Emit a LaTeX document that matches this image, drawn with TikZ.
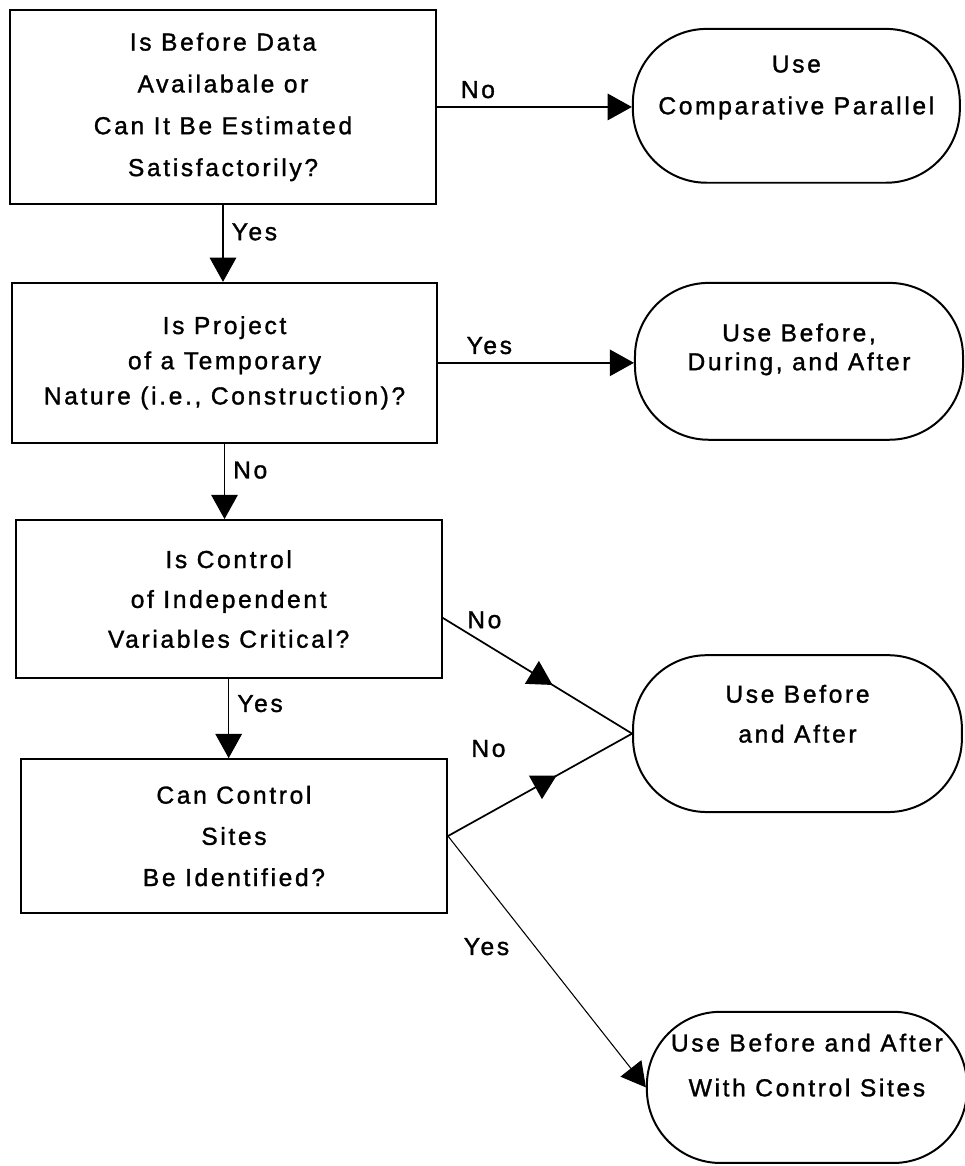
\documentclass[tikz,border=0pt]{standalone}
\usepackage{fontspec}
\newfontfamily\chartfont{Liberation Sans}[LetterSpace=10.8, FakeBold=1.3]
\usetikzlibrary{arrows.meta,positioning,decorations.markings}

\begin{document}
\begin{tikzpicture}[
  x=1cm, y=1cm,
  font=\chartfont\fontsize{18.5}{31.5}\selectfont,
  question/.style={draw, line width=1.5pt, minimum width=11.27cm, align=center, inner sep=0pt},
  outcome/.style={draw, line width=1.5pt, rounded corners=1.95cm, align=center, inner sep=0pt},
  flow/.style={-{Triangle[length=6.4mm, width=7mm]}, line width=1.1pt},
  midflow/.style={line width=1.3pt, postaction={decorate},
    decoration={markings, mark=at position #1 with {\arrow{Triangle[length=6.4mm, width=7mm]}}}},
  lbl/.style={inner sep=2pt}
]
\useasboundingbox (0,0) rectangle (25.53,-30.85);

% questions
\node[question, minimum height=5.13cm] (avail) at (5.90,-2.83) {Is Before Data\\Availabale or\\Can It Be Estimated\\Satisfactorily?};
\node[question, minimum height=4.23cm, font=\chartfont\fontsize{18.5}{26.5}\selectfont] (temp) at (5.94,-9.60) {Is Project\\of a Temporary\\Nature (i.e., Construction)?};
\node[question, minimum height=4.18cm, font=\chartfont\fontsize{18.5}{30}\selectfont] (indep) at (6.05,-15.85) {Is Control\\of Independent\\Variables Critical?};
\node[question, minimum height=4.07cm, font=\chartfont\fontsize{18.5}{31}\selectfont] (sites) at (6.19,-22.12) {Can Control\\Sites\\Be Identified?};

% outcomes
\node[outcome, minimum width=8.65cm, minimum height=4.07cm] (parallel) at (21.07,-2.80) {Use\\Comparative Parallel\\\mbox{}};
\node[outcome, minimum width=8.68cm, minimum height=4.15cm, font=\chartfont\fontsize{18.5}{21.75}\selectfont] (during) at (21.14,-9.56) {Use Before,\\During, and After\\\mbox{}};
\node[outcome, minimum width=8.70cm, minimum height=4.15cm, font=\chartfont\fontsize{18.5}{30}\selectfont] (beforeafter) at (21.10,-19.41) {Use Before\\and After\\\mbox{}};
\node[outcome, minimum width=8.47cm, minimum height=4.0cm, font=\chartfont\fontsize{18.5}{33.75}\selectfont] (withsites) at (21.35,-28.77) {Use Before and After\\With Control Sites\\\mbox{}};

\draw[flow] (avail.east) -- node[lbl, pos=0.21, above=4pt] {No} (avail.east -| parallel.west);
\draw[flow] (avail.south) -- node[lbl, pos=0.35, right=4pt] {Yes} (avail.south |- temp.north);
\draw[flow] (temp.east) -- node[lbl, pos=0.26, above=4pt] {Yes} (temp.east -| during.west);
\draw[flow] (temp.south) -- node[lbl, pos=0.35, right=4pt] {No} (temp.south |- indep.north);
\draw[flow] (indep.south) -- node[lbl, pos=0.31, right=4pt] {Yes} (indep.south |- sites.north);
\draw[midflow=0.58] (indep.-5) -- node[lbl, pos=0.22, above=0.3cm] {No} (beforeafter.west);
\draw[midflow=0.59] (sites.east) -- node[lbl, pos=0.22, above=1.4cm] {No} (beforeafter.west);
\draw[flow, line width=0.8pt] (sites.east) -- node[lbl, pos=0.44, left=0.6cm] {Yes} (withsites.west);
\end{tikzpicture}
\end{document}
